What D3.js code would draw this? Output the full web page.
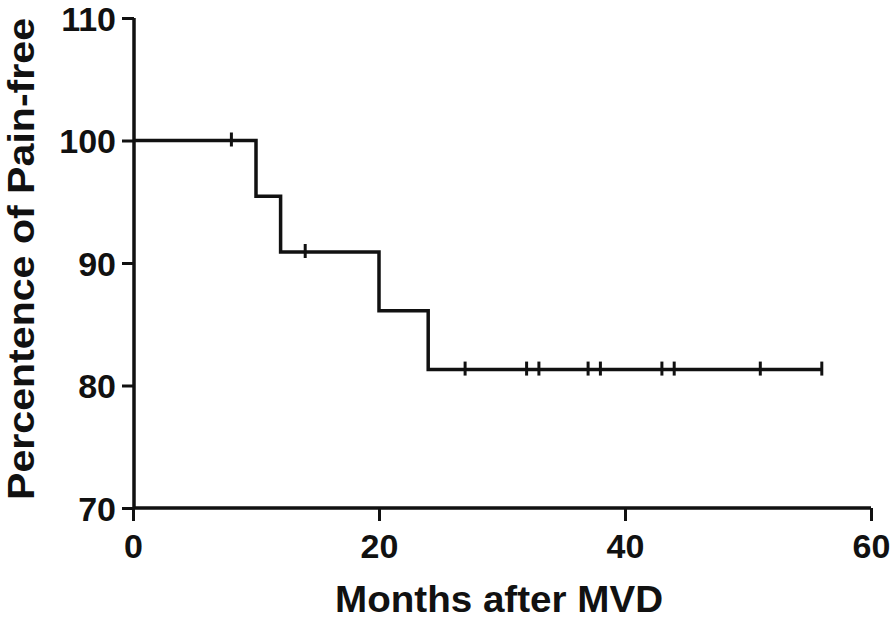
<!DOCTYPE html>
<html>
<head>
<meta charset="utf-8">
<script src="https://cdn.jsdelivr.net/npm/d3@7"></script>
<style>
  html, body { margin: 0; padding: 0; background: #fff; }
  svg { display: block; }
  text { font-family: "Liberation Sans", Arial, sans-serif; font-weight: bold; fill: #111; }
</style>
</head>
<body>
<svg id="chart" width="894" height="620"></svg>
<script>
// ---- data ----
const stepMonths = [0, 10, 12, 20, 24, 56];
const stepPercent = [100, 95.45, 90.9, 86.1, 81.3, 81.3];
const censorMonths = [8, 14, 27, 32, 33, 37, 38, 43, 44, 51, 56];
const censorPercent = [100, 90.9, 81.3, 81.3, 81.3, 81.3, 81.3, 81.3, 81.3, 81.3, 81.3];
const xTicks = [0, 20, 40, 60];
const yTicks = [70, 80, 90, 100, 110];
const xTitle = "Months after MVD";
const yTitle = "Percentence of Pain-free";

const svg = d3.select("#chart");
const x = d3.scaleLinear().domain([0, 60]).range([133, 871]);
const y = d3.scaleLinear().domain([70, 110]).range([508, 18]);

// axes
const xAxis = svg.append("g").attr("transform", "translate(0,508)")
  .call(d3.axisBottom(x).tickValues(xTicks).tickSize(13).tickPadding(6).tickFormat(d3.format("d")));
const yAxis = svg.append("g").attr("transform", "translate(134,0)")
  .call(d3.axisLeft(y).tickValues(yTicks).tickSize(12).tickPadding(6).tickFormat(d3.format("d")));

[xAxis, yAxis].forEach(g => {
  g.select(".domain").attr("stroke", "#111").attr("stroke-width", 3.5);
  g.selectAll(".tick line").attr("stroke", "#111").attr("stroke-width", 3);
  g.selectAll(".tick text").style("font-size", "34px").attr("fill", "#111");
});
// plain domain lines (no end caps)
xAxis.select(".domain").attr("d", `M${x(0)},0H${x(60)}`);
yAxis.select(".domain").attr("d", `M0,${y(70)}V${y(110)}`);
xAxis.selectAll(".tick text").attr("dy", "0.9em");
yAxis.selectAll(".tick text").attr("dy", "0.36em");

// survival step line
const pts = stepMonths.map((m, i) => [m, stepPercent[i]]);
svg.append("path")
  .datum(pts)
  .attr("fill", "none")
  .attr("stroke", "#111")
  .attr("stroke-width", 3.5)
  .attr("stroke-linejoin", "miter")
  .attr("d", d3.line().x(d => x(d[0])).y(d => y(d[1])).curve(d3.curveStepAfter));

// censor marks
svg.append("g").selectAll("line")
  .data(censorMonths.map((m, i) => [m, censorPercent[i]]))
  .join("line")
  .attr("x1", d => x(d[0])).attr("x2", d => x(d[0]))
  .attr("y1", d => y(d[1]) - 8).attr("y2", d => y(d[1]) + 6)
  .attr("stroke", "#111").attr("stroke-width", 3);

// titles
svg.append("text")
  .attr("x", 499).attr("y", 612)
  .attr("text-anchor", "middle")
  .attr("textLength", 328).attr("lengthAdjust", "spacingAndGlyphs")
  .style("font-size", "37px")
  .text(xTitle);

svg.append("text")
  .attr("transform", "translate(34,259) rotate(-90)")
  .attr("text-anchor", "middle")
  .attr("textLength", 482).attr("lengthAdjust", "spacingAndGlyphs")
  .style("font-size", "37px")
  .text(yTitle);
</script>
</body>
</html>
